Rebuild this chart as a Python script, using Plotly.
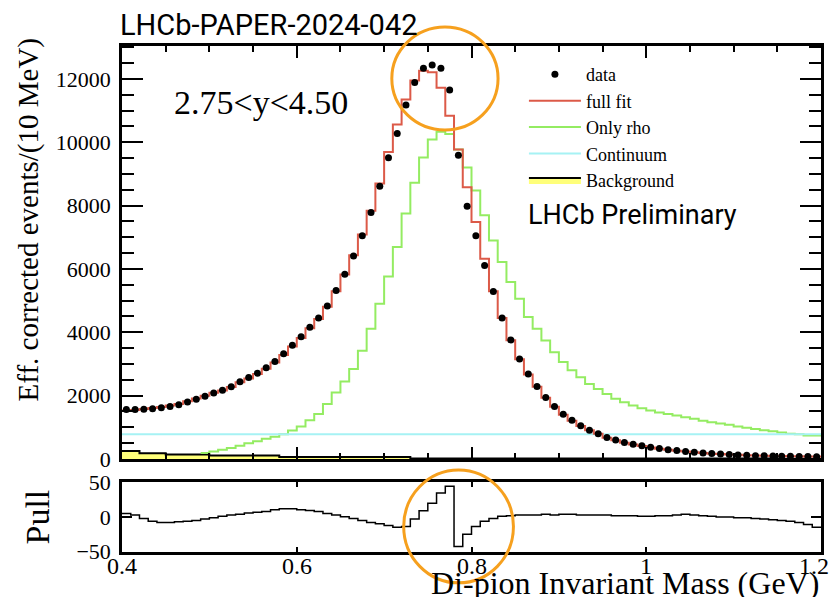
import numpy as np
import plotly.graph_objects as go

# ---------------- data ----------------
x_lo, x_hi, bin_w = 0.40, 1.20, 0.01
edges = np.round(x_lo + bin_w * np.arange(81), 3)
centers = np.round(edges[:-1] + bin_w / 2, 4)

data_vals = [1560, 1560, 1570, 1590, 1620, 1660, 1710, 1800, 1890, 1980,
             2080, 2170, 2280, 2440, 2570, 2710, 2880, 3080, 3320, 3590,
             3860, 4160, 4450, 4830, 5320, 5830, 6410, 7050, 7780, 8610,
             9510, 10280, 11180, 11890, 12340, 12440, 12340, 11650, 9590, 7980,
             7050, 6110, 5290, 4450, 3760, 3160, 2680, 2290, 1940, 1660,
             1410, 1220, 1050, 910, 800, 675, 600, 520, 465, 415,
             370, 330, 295, 265, 240, 215, 190, 170, 155, 140,
             130, 115, 105, 100, 95, 90, 85, 80, 75, 70]

full_fit = [1530, 1545, 1575, 1610, 1645, 1690, 1740, 1825, 1910, 1995,
            2090, 2165, 2270, 2420, 2545, 2680, 2850, 3050, 3280, 3550,
            3820, 4125, 4420, 4810, 5300, 5825, 6430, 7090, 7840, 8700,
            9690, 10560, 11350, 11950, 12260, 12210, 11720, 10840, 9770, 8580,
            7480, 6320, 5300, 4450, 3750, 3150, 2670, 2280, 1930, 1650,
            1400, 1210, 1040, 905, 795, 670, 595, 515, 460, 410,
            365, 325, 290, 260, 235, 210, 188, 169, 155, 140,
            131, 116, 107, 102, 98, 94, 90, 86, 82, 78]

only_rho = [None, None, None, None, None, None, None, None, None, 190,
            240, 290, 350, 420, 500, 560, 640, 700, 780, 900,
            1030, 1220, 1420, 1740, 2100, 2450, 2840, 3420, 4110, 4900,
            5760, 6690, 7750, 8720, 9520, 10090, 10330, 10260, 9770, 9200,
            8480, 7700, 6900, 6220, 5590, 5060, 4480, 4110, 3740, 3370,
            3060, 2800, 2580, 2370, 2210, 2050, 1900, 1790, 1690, 1600,
            1530, 1470, 1420, 1370, 1320, 1270, 1210, 1160, 1120, 1080,
            1030, 990, 950, 910, 880, 840, 800, 785, 745, 740]

continuum_level = 780
continuum = [continuum_level] * 80

bg_edges = [0.40, 0.42, 0.45, 0.50, 0.58, 0.73, 1.15, 1.20]
bg_vals = [250, 185, 140, 110, 60, 15, 5]

pull = [5, 3, -2, -6, -8, -8, -7, -6, -5, -3,
        -1, 1, 3, 4, 6, 7, 8, 10.5, 12, 12,
        10.5, 9.5, 8, 5, 3, 0.5, -2, -5, -8, -10,
        -12.5, -15, -14, -3, 9, 20, 35, 45, -43, -25,
        -14, -6, -2, 1, 2, 3, 3, 3, 4, 3,
        4, 4, 3, 3, 3, 3, 2, 2, 2, 1,
        1, 2, 2, 3, 4, 3, 2, 1, 0, 0,
        -1, -1, -2, -3, -4, -5, -6, -8, -11, -15]

x_ticks_main = [0.4, 0.6, 0.8, 1.0, 1.2]
x_tick_labels = ["0.4", "0.6", "0.8", "1", "1.2"]
pull_tickvals = [-50, 0, 50]
pull_ticktext = ["\u221250", "0", "50"]

# ---------------- styling ----------------
SERIF = "Liberation Serif, Times New Roman, serif"
SANS = "Roboto, Liberation Sans, Arial, sans-serif"
RED = "#dc5a48"
GREEN = "#94ec62"
CYAN = "#a6f2f4"
YELLOW = "#ffff7a"
ORANGE = "#f6a01e"

def step_y(vals):
    return list(vals) + [vals[-1]]

fig = go.Figure()

fig.add_trace(go.Scatter(
    x=bg_edges, y=step_y(bg_vals), mode="lines", line_shape="hv",
    line=dict(color="black", width=2), fill="tozeroy", fillcolor=YELLOW,
    name="Background", legendrank=5, legendgroup="e",
    xaxis="x", yaxis="y"))
fig.add_trace(go.Scatter(
    x=edges, y=step_y(only_rho), mode="lines", line_shape="hv",
    line=dict(color=GREEN, width=2), name="Only rho", legendrank=3,
    legendgroup="c", xaxis="x", yaxis="y"))
fig.add_trace(go.Scatter(
    x=edges, y=step_y(continuum), mode="lines", line_shape="hv",
    line=dict(color=CYAN, width=2), name="Continuum", legendrank=4,
    legendgroup="d", xaxis="x", yaxis="y"))
fig.add_trace(go.Scatter(
    x=edges, y=step_y(full_fit), mode="lines", line_shape="hv",
    line=dict(color=RED, width=2), name="full fit", legendrank=2,
    legendgroup="b", xaxis="x", yaxis="y"))
fig.add_trace(go.Scatter(
    x=centers, y=data_vals, mode="markers",
    marker=dict(color="black", size=7, symbol="circle"),
    name="data", legendrank=1, legendgroup="a", xaxis="x", yaxis="y"))

fig.add_trace(go.Scatter(
    x=edges, y=step_y(pull), mode="lines", line_shape="hv",
    line=dict(color="black", width=1.5), showlegend=False,
    xaxis="x2", yaxis="y2"))

axis_common = dict(showline=True, linecolor="black", linewidth=2.5,
                   mirror="ticks", ticks="inside", tickcolor="black",
                   showgrid=False, zeroline=False)

fig.update_layout(
    width=824, height=589,
    margin=dict(l=114, r=8, t=38, b=45),
    paper_bgcolor="white", plot_bgcolor="white",
    font=dict(family=SERIF, color="black"),
    xaxis=dict(**axis_common, domain=[0, 1], anchor="y", range=[x_lo, x_hi],
               tickvals=x_ticks_main, showticklabels=False, ticklen=12,
               tickwidth=1.5,
               minor=dict(dtick=0.05, tick0=0.4, ticklen=6, ticks="inside",
                          tickcolor="black", tickwidth=1.5)),
    yaxis=dict(**axis_common, domain=[0.1838, 1], anchor="x",
               range=[0, 13040], dtick=2000, tick0=0, ticklen=21, tickwidth=2,
               tickformat="d",
               tickfont=dict(family=SERIF, size=22), ticklabelstandoff=4,
               minor=dict(dtick=500, tick0=0, ticklen=12, ticks="inside",
                          tickcolor="black", tickwidth=1.5)),
    xaxis2=dict(**axis_common, domain=[0, 1], anchor="y2", range=[x_lo, x_hi],
                tickvals=x_ticks_main, ticklen=5, tickwidth=1.5,
                showticklabels=False),
    yaxis2=dict(**axis_common, domain=[0, 0.1383], anchor="x2",
                range=[-51, 51], tickvals=pull_tickvals,
                ticktext=pull_ticktext, ticklen=10, tickwidth=2,
                tickfont=dict(family=SERIF, size=22), ticklabelstandoff=4),
    legend=dict(x=0.575, y=0.98, xanchor="left", yanchor="top",
                font=dict(family=SERIF, size=18), bgcolor="rgba(0,0,0,0)",
                itemwidth=52, tracegroupgap=4, traceorder="normal"),
    showlegend=True,
)

# x tick labels of the pull panel (last one kept inside the page edge)
for i, (xv, lab) in enumerate(zip(x_ticks_main, x_tick_labels)):
    last = i == len(x_ticks_main) - 1
    fig.add_annotation(xref="x2", yref="paper", x=xv, y=-0.0277,
                       text=lab, showarrow=False,
                       xanchor="right" if last else "center",
                       xshift=10 if last else 0, yanchor="middle",
                       font=dict(family=SERIF, size=24))

annots = [
    dict(text="LHCb-PAPER-2024-042", x=-0.0057, y=1.0415, xanchor="left",
         yanchor="middle", font=dict(family=SANS, size=29)),
    dict(text="2.75&lt;y&lt;4.50", x=0.0712, y=0.889, xanchor="left",
         yanchor="middle", font=dict(family=SERIF, size=34)),
    dict(text="LHCb Preliminary", x=0.578, y=0.666, xanchor="left",
         yanchor="middle", font=dict(family=SANS, size=27)),
    dict(text="Eff. corrected events/(10 MeV)", x=-0.134, y=0.656,
         xanchor="center", yanchor="middle", textangle=-90,
         font=dict(family=SERIF, size=29)),
    dict(text="Di-pion Invariant Mass (GeV)", x=1.0, y=-0.062, xanchor="right",
         yanchor="middle", font=dict(family=SERIF, size=32)),
    dict(text="Pull", x=-0.121, y=0.069, xanchor="center", yanchor="middle",
         textangle=-90, font=dict(family=SERIF, size=34)),
]
for a in annots:
    fig.add_annotation(xref="paper", yref="paper", showarrow=False, **a)

# hand-drawn highlight ellipses
fig.add_shape(type="circle", xref="paper", yref="paper",
              x0=0.386, x1=0.538, y0=0.834, y1=1.0375,
              line=dict(color=ORANGE, width=3), layer="above")
fig.add_shape(type="circle", xref="paper", yref="paper",
              x0=0.403, x1=0.560, y0=-0.061, y1=0.162,
              line=dict(color=ORANGE, width=3), layer="above")

fig.write_html("out.html")
